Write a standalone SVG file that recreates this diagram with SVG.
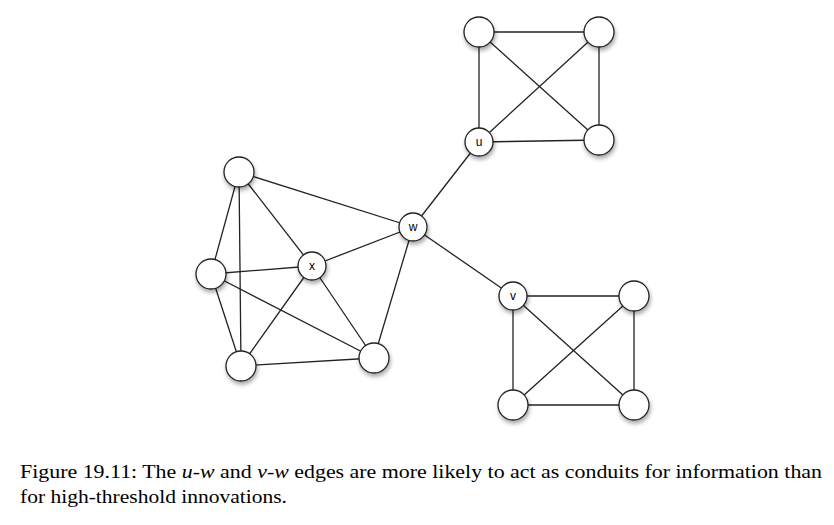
<svg xmlns="http://www.w3.org/2000/svg" width="834" height="525" viewBox="0 0 834 525">
<defs>
<filter id="sh" x="-50%" y="-50%" width="200%" height="200%">
<feGaussianBlur in="SourceAlpha" stdDeviation="2"/>
<feOffset dx="1" dy="3" result="b"/>
<feComponentTransfer><feFuncA type="linear" slope="0.35"/></feComponentTransfer>
<feMerge><feMergeNode/><feMergeNode in="SourceGraphic"/></feMerge>
</filter>
</defs>
<style>
.e{stroke:#222;stroke-width:1.3;fill:none}
.n{fill:#fff;stroke:#222;stroke-width:1.3;filter:url(#sh)}
.l{font-family:"Liberation Sans",Arial,sans-serif;font-size:12px;fill:#000;text-anchor:middle}
.c{font-family:"Liberation Serif","Times New Roman",serif;font-size:19px;fill:#000}
</style>
<rect width="834" height="525" fill="#fff"/>
<g id="edges">
<line class="e" x1="239" y1="172" x2="211" y2="274"/>
<line class="e" x1="239" y1="172" x2="241" y2="366"/>
<line class="e" x1="239" y1="172" x2="312" y2="266"/>
<line class="e" x1="239" y1="172" x2="413" y2="227"/>
<line class="e" x1="211" y1="274" x2="312" y2="266"/>
<line class="e" x1="211" y1="274" x2="241" y2="366"/>
<line class="e" x1="211" y1="274" x2="374" y2="358"/>
<line class="e" x1="241" y1="366" x2="312" y2="266"/>
<line class="e" x1="241" y1="366" x2="374" y2="358"/>
<line class="e" x1="312" y1="266" x2="374" y2="358"/>
<line class="e" x1="312" y1="266" x2="413" y2="227"/>
<line class="e" x1="413" y1="227" x2="374" y2="358"/>
<line class="e" x1="413" y1="227" x2="479" y2="142"/>
<line class="e" x1="413" y1="227" x2="513" y2="296"/>
<line class="e" x1="479" y1="32" x2="599" y2="32"/>
<line class="e" x1="479" y1="32" x2="479" y2="142"/>
<line class="e" x1="479" y1="32" x2="599" y2="140"/>
<line class="e" x1="599" y1="32" x2="479" y2="142"/>
<line class="e" x1="599" y1="32" x2="599" y2="140"/>
<line class="e" x1="479" y1="142" x2="599" y2="140"/>
<line class="e" x1="513" y1="296" x2="634" y2="296"/>
<line class="e" x1="513" y1="296" x2="513" y2="405"/>
<line class="e" x1="513" y1="296" x2="634" y2="405"/>
<line class="e" x1="634" y1="296" x2="513" y2="405"/>
<line class="e" x1="634" y1="296" x2="634" y2="405"/>
<line class="e" x1="513" y1="405" x2="634" y2="405"/>
</g>
<g id="n_a"><circle class="n" cx="239" cy="172" r="15"/></g>
<g id="n_b"><circle class="n" cx="211" cy="274" r="15"/></g>
<g id="n_c"><circle class="n" cx="241" cy="366" r="15"/></g>
<g id="n_d"><circle class="n" cx="374" cy="358" r="15"/></g>
<g id="n_x"><circle class="n" cx="312" cy="266" r="14"/><text class="l" x="312" y="270">x</text></g>
<g id="n_w"><circle class="n" cx="413" cy="227" r="14"/><text class="l" x="413" y="231">w</text></g>
<g id="n_u"><circle class="n" cx="479" cy="142" r="14"/><text class="l" x="479" y="146">u</text></g>
<g id="n_t1"><circle class="n" cx="479" cy="32" r="15"/></g>
<g id="n_t2"><circle class="n" cx="599" cy="32" r="15"/></g>
<g id="n_t3"><circle class="n" cx="599" cy="140" r="15"/></g>
<g id="n_v"><circle class="n" cx="513" cy="296" r="14"/><text class="l" x="513" y="300">v</text></g>
<g id="n_b1"><circle class="n" cx="634" cy="296" r="15"/></g>
<g id="n_b2"><circle class="n" cx="513" cy="405" r="15"/></g>
<g id="n_b3"><circle class="n" cx="634" cy="405" r="15"/></g>
<g id="caption">
<text class="c" x="20" y="478" textLength="802" lengthAdjust="spacingAndGlyphs">Figure 19.11: The <tspan font-style="italic">u</tspan>-<tspan font-style="italic">w</tspan> and <tspan font-style="italic">v</tspan>-<tspan font-style="italic">w</tspan> edges are more likely to act as conduits for information than</text>
<text class="c" x="20" y="503" textLength="267" lengthAdjust="spacingAndGlyphs">for high-threshold innovations.</text>
</g>
</svg>
